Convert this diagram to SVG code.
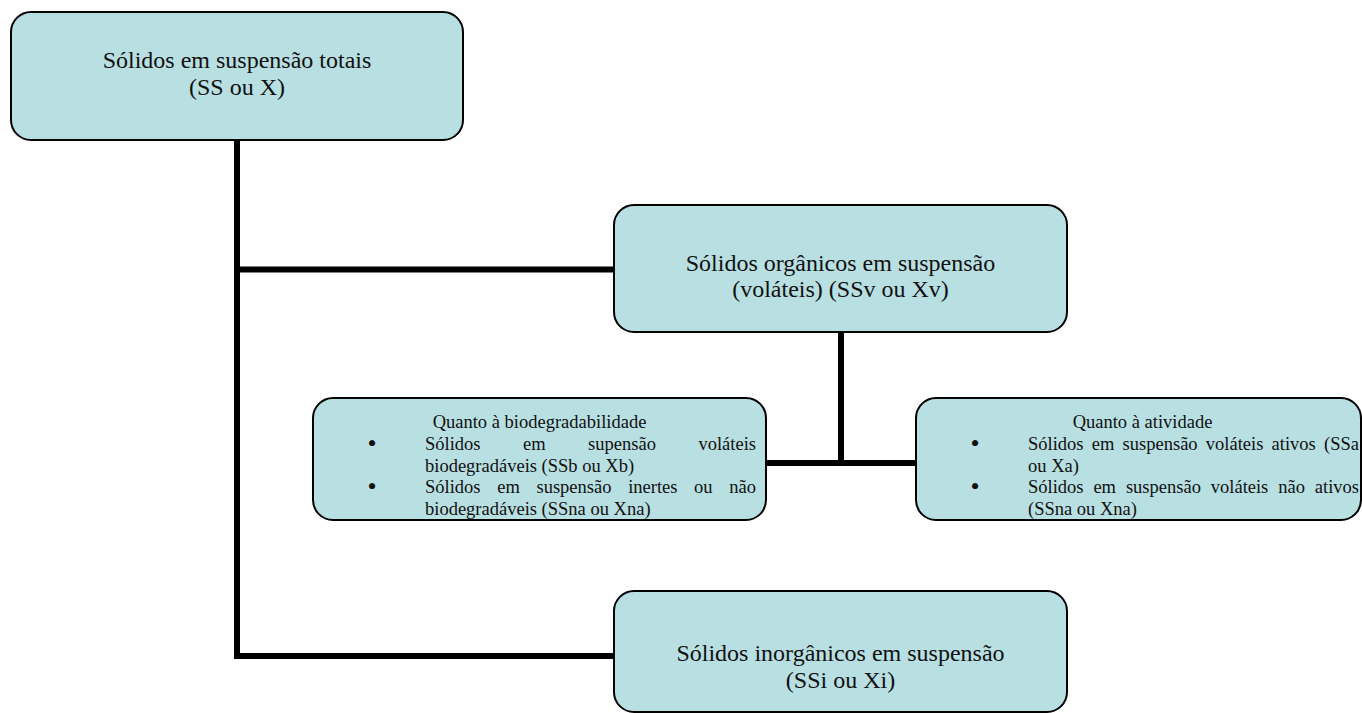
<svg xmlns="http://www.w3.org/2000/svg" width="1362" height="713" viewBox="0 0 1362 713">
<style>
.box{fill:#b8dfe2;stroke:#000;stroke-width:2}
.t{font-family:"Liberation Serif","Times New Roman",serif;fill:#111}
.big{font-size:24px;text-anchor:middle}
.sm{font-size:18.5px}
.mid{text-anchor:middle}
.bul{text-anchor:middle;font-size:26px}
.con{fill:none;stroke:#000;stroke-width:6;stroke-linejoin:miter}
</style>
<defs>
<clipPath id="c3"><rect x="313" y="398" width="453" height="122" rx="20"/></clipPath>
<clipPath id="c4"><rect x="916" y="398" width="445" height="122" rx="20"/></clipPath>
</defs>
<rect width="1362" height="713" fill="#fff"/>
<g id="connectors">
<path class="con" d="M237,140 V656 H614"/>
<path class="con" d="M237,269.5 H614"/>
<path class="con" d="M841,332 V463"/>
<path class="con" d="M766,463 H916"/>
</g>
<g id="n1">
<rect class="box" x="11" y="12" width="452" height="128" rx="20"/>
<text class="t big" x="237" y="68">Sólidos em suspensão totais</text>
<text class="t big" x="237" y="95">(SS ou X)</text>
</g>
<g id="n2">
<rect class="box" x="614" y="205" width="453" height="127" rx="20"/>
<text class="t big" x="840.5" y="271">Sólidos orgânicos em suspensão</text>
<text class="t big" x="840.5" y="297">(voláteis) (SSv ou Xv)</text>
</g>
<g id="n3">
<rect class="box" x="313" y="398" width="453" height="122" rx="20"/>
<g clip-path="url(#c3)">
<text class="t sm mid" x="539.5" y="428">Quanto à biodegradabilidade</text>
<text class="t bul" x="372" y="452">•</text>
<text class="t sm" y="450"><tspan x="425">Sólidos</tspan><tspan x="523">em</tspan><tspan x="588.1">supensão</tspan><tspan x="698.45">voláteis</tspan></text>
<text class="t sm" x="425" y="471.5">biodegradáveis (SSb ou Xb)</text>
<text class="t bul" x="372" y="495">•</text>
<text class="t sm" y="493"><tspan x="425">Sólidos</tspan><tspan x="497.18">em</tspan><tspan x="536.45">suspensão</tspan><tspan x="628.13">inertes</tspan><tspan x="694.11">ou</tspan><tspan x="729.27">não</tspan></text>
<text class="t sm" x="425" y="515">biodegradáveis (SSna ou Xna)</text>
</g>
</g>
<g id="n4">
<rect class="box" x="916" y="398" width="445" height="122" rx="20"/>
<g clip-path="url(#c4)">
<text class="t sm mid" x="1142.5" y="428">Quanto à atividade</text>
<text class="t bul" x="975" y="452">•</text>
<text class="t sm" y="450"><tspan x="1028">Sólidos</tspan><tspan x="1091.75">em</tspan><tspan x="1122.59">suspensão</tspan><tspan x="1205.84">voláteis</tspan><tspan x="1271.62">ativos</tspan><tspan x="1324.05">(SSa</tspan></text>
<text class="t sm" x="1028" y="471.5">ou Xa)</text>
<text class="t bul" x="975" y="495">•</text>
<text class="t sm" y="493"><tspan x="1028">Sólidos</tspan><tspan x="1093.4">em</tspan><tspan x="1125.89">suspensão</tspan><tspan x="1210.79">voláteis</tspan><tspan x="1278.22">não</tspan><tspan x="1314.81">ativos</tspan></text>
<text class="t sm" x="1028" y="515">(SSna ou Xna)</text>
</g>
</g>
<g id="n5">
<rect class="box" x="614" y="591" width="453" height="121" rx="20"/>
<text class="t big" x="840.5" y="661">Sólidos inorgânicos em suspensão</text>
<text class="t big" x="840.5" y="688">(SSi ou Xi)</text>
</g>
</svg>
